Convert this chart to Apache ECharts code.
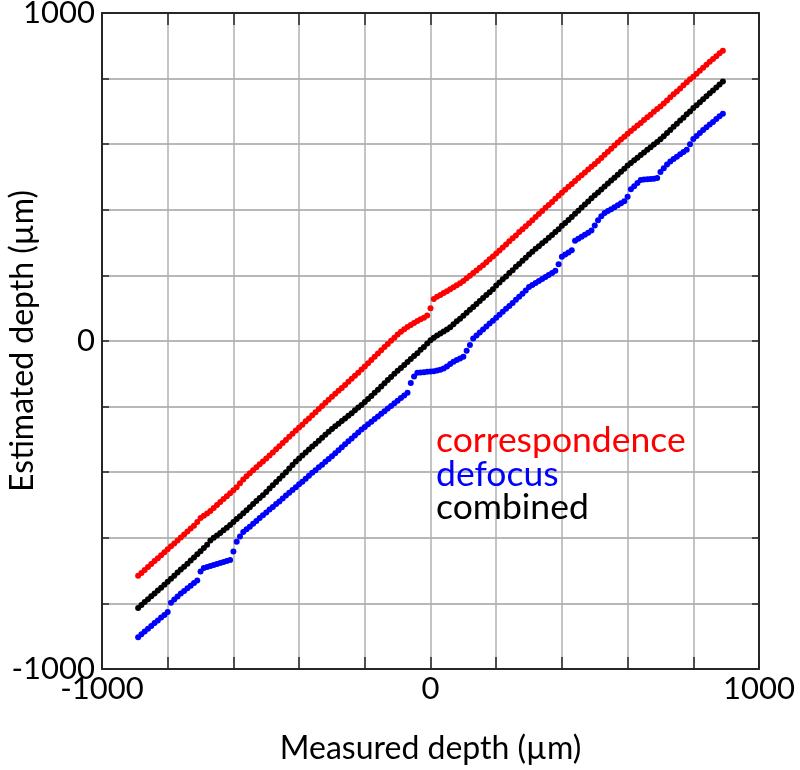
<!DOCTYPE html>
<html><head><meta charset="utf-8">
<script src="https://cdn.jsdelivr.net/npm/echarts@6/dist/echarts.min.js"></script>
<style>html,body{margin:0;padding:0;background:#fff}#c{width:800px;height:770px}</style>
</head><body><div id="c"></div>
<script>
const measuredDepth = [
-890,-880,-870,-860,-850,-840,-830,-820,-810,-800,-790,-780,-770,-760,-750,-740,-730,-720,-710,-700,
-690,-680,-670,-660,-650,-640,-630,-620,-610,-600,-590,-580,-570,-560,-550,-540,-530,-520,-510,
-500,-490,-480,-470,-460,-450,-440,-430,-420,-410,-400,-390,-380,-370,-360,-350,-340,-330,-320,-310,
-300,-290,-280,-270,-260,-250,-240,-230,-220,-210,-200,-190,-180,-170,-160,-150,-140,-130,-120,-110,
-100,-90,-80,-70,-60,-50,-40,-30,-20,-10,0,10,20,30,40,50,60,70,80,90,
100,110,120,130,140,150,160,170,180,190,200,210,220,230,240,250,260,270,280,290,
300,310,320,330,340,350,360,370,380,390,400,410,420,430,440,450,460,470,480,490,
500,510,520,530,540,550,560,570,580,590,600,610,620,630,640,650,660,670,680,690,
700,710,720,730,740,750,760,770,780,790,800,810,820,830,840,850,860,870,880,890];

const correspondence = [
-716,-707,-698,-689,-680,-671,-662,-653,-644,-635,-626,-617,-608,-599,-590,-581,-572,-563,-552,-540,
-533,-526,-518,-509,-500,-491,-482,-473,-464,-455,-446,-434,-422,-412,-403,-394,-385,-376,-367,
-358,-349,-340,-330,-321,-311,-302,-292,-283,-273,-264,-255,-245,-236,-226,-217,-207,-198,-188,-179,
-170,-161,-152,-143,-134,-124,-115,-106,-97,-87,-78,-68,-58,-48,-38,-28,-18,-9,1,10,
20,28,36,43,49,55,61,66,71,78,100,128,135,140,146,152,158,164,170,176,
183,191,199,207,215,223,231,240,249,258,267,276,285,294,304,313,322,332,341,350,
359,368,378,387,396,406,415,424,434,443,452,461,470,479,488,497,505,514,523,531,
540,549,558,568,577,586,596,605,614,623,632,640,649,657,665,674,682,690,699,707,
715,724,733,743,752,761,770,780,789,798,806,815,824,833,842,851,860,868,877,885];

const defocus = [
-903,-894,-886,-877,-869,-860,-852,-843,-835,-826,-798,-788,-779,-770,-762,-754,-746,-738,-730,-703,
-692,-689,-686,-683,-680,-677,-674,-671,-668,-642,-612,-596,-582,-574,-566,-557,-549,-540,-531,
-523,-514,-506,-497,-489,-480,-471,-463,-454,-446,-437,-429,-420,-411,-402,-394,-385,-377,-368,-360,
-351,-342,-333,-324,-315,-306,-297,-288,-279,-270,-262,-254,-246,-238,-230,-222,-214,-206,-198,-190,
-182,-174,-166,-158,-128,-108,-97,-96,-95,-94,-93,-92,-90,-88,-84,-78,-70,-63,-58,-53,
-48,-30,-12,8,17,26,35,44,53,62,71,80,89,98,107,116,126,135,144,154,
165,171,177,183,189,195,201,207,214,234,257,264,270,277,306,312,318,324,330,337,
352,368,380,390,396,402,408,414,420,426,440,463,472,482,491,492,493,494,495,497,
515,527,538,547,555,562,569,576,583,600,616,625,634,643,652,660,668,677,685,693];

const combined = [
-814,-805,-796,-787,-778,-770,-761,-752,-743,-734,-725,-716,-706,-697,-688,-679,-669,-660,-650,-641,
-631,-621,-608,-600,-593,-585,-577,-569,-561,-552,-543,-534,-525,-516,-507,-497,-488,-479,-470,
-460,-450,-440,-430,-420,-410,-400,-389,-378,-367,-358,-349,-340,-331,-322,-313,-304,-295,-286,-277,
-268,-260,-252,-244,-236,-228,-220,-211,-203,-195,-186,-177,-168,-158,-149,-139,-129,-119,-110,-100,
-91,-82,-73,-64,-55,-46,-37,-27,-18,-8,2,10,17,23,29,35,42,51,60,68,
77,86,95,104,113,122,131,140,149,158,169,178,188,197,207,216,226,235,245,254,
264,272,281,289,298,306,315,323,332,341,351,360,369,378,388,397,407,416,425,435,
444,453,462,471,480,489,498,507,516,525,535,543,551,559,567,575,583,591,599,607,
615,624,634,643,653,662,672,681,691,700,710,719,728,737,746,755,764,773,782,791];

const labeledTicks = [-1000, 0, 1000];
const seriesNames = ['correspondence', 'defocus', 'combined'];
const seriesColors = ['#ff0000', '#0000ff', '#000000'];
const seriesValues = [correspondence, defocus, combined];

const FONT = 'Lato';
const AX = '#262626';

function pairs(vals) { return measuredDepth.map((x, i) => [x, vals[i]]); }
function lbl(v) { return labeledTicks.indexOf(v) >= 0 ? String(v) : ''; }

const chart = echarts.init(document.getElementById('c'), null, {renderer: 'canvas'});

const baseAxis = {
  type: 'value', min: -1000, max: 1000, interval: 200
};

chart.setOption({
  animation: false,
  backgroundColor: '#ffffff',
  grid: { left: 102, right: 41, top: 13, bottom: 101, containLabel: false, outerBoundsMode: 'none' },
  xAxis: [
    Object.assign({}, baseAxis, {
      position: 'bottom',
      name: 'Measured depth (µm)', nameLocation: 'middle', nameGap: 64, nameMoveOverlap: false,
      nameTextStyle: { fontFamily: FONT, fontSize: 32, color: '#000' },
      axisLine: { show: true, onZero: false, lineStyle: { color: AX, width: 2 } },
      axisTick: { show: true, inside: true, length: 12, lineStyle: { color: AX, width: 1.5 } },
      axisLabel: { show: true, margin: 4, formatter: lbl, fontFamily: FONT, fontSize: 31, color: '#000', showMinLabel: true, showMaxLabel: true },
      splitLine: { show: true, lineStyle: { color: '#b0b0b0', width: 1.5 } }
    }),
    Object.assign({}, baseAxis, {
      position: 'top',
      axisLine: { show: true, onZero: false, lineStyle: { color: AX, width: 2 } },
      axisTick: { show: true, inside: true, length: 12, lineStyle: { color: AX, width: 1.5 } },
      axisLabel: { show: false },
      splitLine: { show: false }
    })
  ],
  yAxis: [
    Object.assign({}, baseAxis, {
      position: 'left',
      name: 'Estimated depth (µm)', nameLocation: 'middle', nameGap: 63, nameMoveOverlap: false,
      nameTextStyle: { fontFamily: FONT, fontSize: 32, color: '#000' },
      axisLine: { show: true, onZero: false, lineStyle: { color: AX, width: 2 } },
      axisTick: { show: true, inside: true, length: 7, lineStyle: { color: AX, width: 1.5 } },
      axisLabel: { show: true, margin: 7, formatter: lbl, fontFamily: FONT, fontSize: 31, color: '#000', showMinLabel: true, showMaxLabel: true },
      splitLine: { show: true, lineStyle: { color: '#b8b8b8', width: 2 } }
    }),
    Object.assign({}, baseAxis, {
      position: 'right',
      axisLine: { show: true, onZero: false, lineStyle: { color: AX, width: 2 } },
      axisTick: { show: true, inside: true, length: 7, lineStyle: { color: AX, width: 1.5 } },
      axisLabel: { show: false },
      splitLine: { show: false }
    })
  ],
  legend: {
    orient: 'vertical', left: 426, top: 418,
    itemWidth: 0, itemHeight: 0, itemGap: -2.5, icon: 'circle',
    selectedMode: false,
    textStyle: { fontFamily: FONT, fontSize: 35.5, lineHeight: 33.5 },
    data: seriesNames.map((n, i) => ({ name: n, textStyle: { color: seriesColors[i] } }))
  },
  series: seriesNames.map((n, i) => ({
    name: n, type: 'scatter', xAxisIndex: 0, yAxisIndex: 0,
    symbol: 'circle', symbolSize: 6,
    itemStyle: { color: seriesColors[i], opacity: 1 },
    data: pairs(seriesValues[i])
  }))
});
</script>
</body></html>
